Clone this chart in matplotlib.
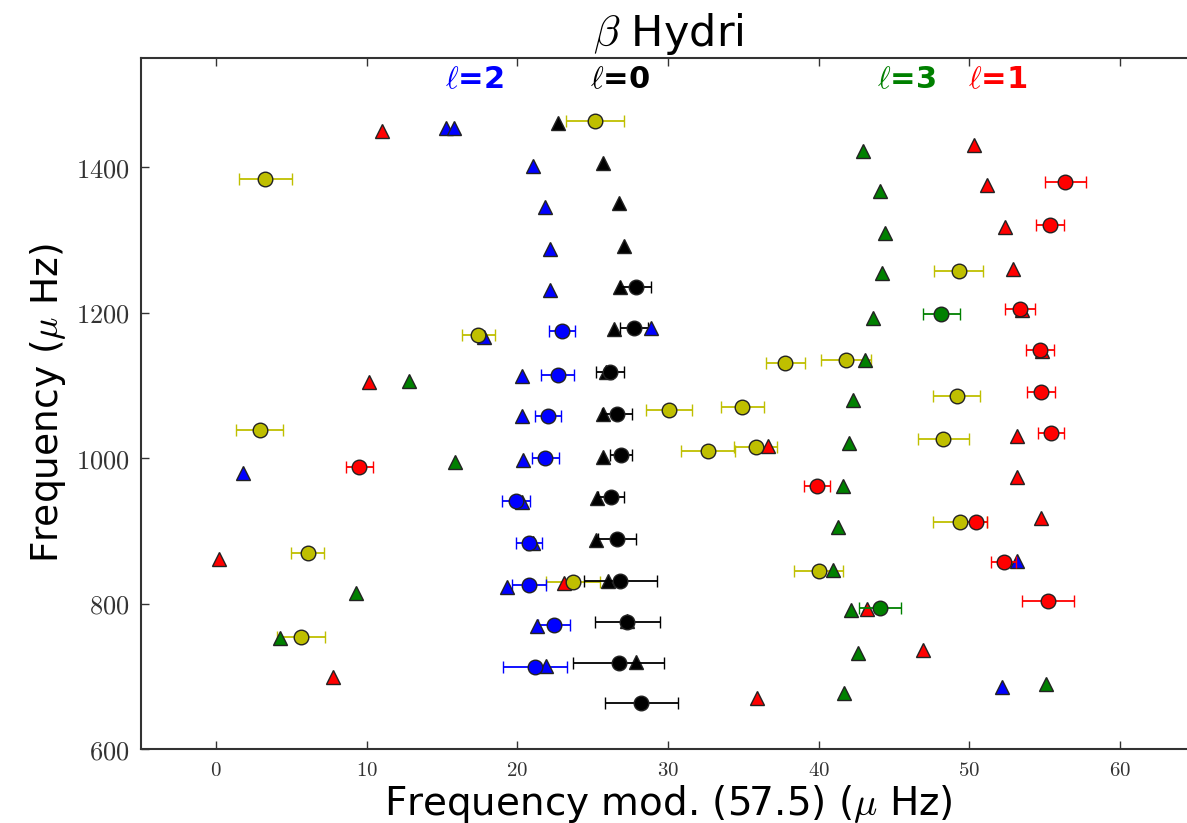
import matplotlib
matplotlib.use("Agg")
import matplotlib.pyplot as plt
from matplotlib.ticker import FuncFormatter

plt.rcParams['mathtext.fontset'] = 'cm'

# l=0 (black): model triangles and observed circles
l0_mod_x = [22.66, 25.69, 26.72, 27.06, 26.84, 26.39, 25.9, 25.69, 25.69, 25.31, 25.24, 26.02, 27.3, 27.85]
l0_mod_y = [1460, 1406, 1350, 1291, 1235, 1178, 1118, 1061, 1002, 945, 888, 831, 776, 719]
l0_obs_x = [27.85, 27.72, 26.13, 26.61, 26.9, 26.19, 26.61, 26.84, 27.28, 26.72, 28.23]
l0_obs_y = [1235, 1179, 1119, 1061, 1004.5, 946, 888.5, 831.5, 775, 718, 663]
l0_obs_err = [1.04, 0.94, 0.92, 1.0, 0.73, 0.86, 1.24, 2.4, 2.16, 3.0, 2.41]

# l=2 (blue)
l2_mod_x = [15.25, 15.8, 21.04, 21.86, 22.19, 22.19, 28.9, 17.8, 20.27, 20.27, 20.38, 1.75,
            20.27, 21.04, 19.32, 21.3, 21.88, 53.2, 52.17]
l2_mod_y = [1454, 1454, 1401, 1345.5, 1288, 1231.6, 1179, 1166.6, 1113, 1057.3, 997.7, 980,
            940, 883, 823.3, 769, 714, 859, 685]
l2_obs_x = [22.97, 22.66, 22.0, 21.86, 19.9, 20.78, 20.78, 22.41, 21.15]
l2_obs_y = [1174.3, 1114.7, 1058.2, 1000, 941, 883, 825.6, 771, 712.3]
l2_obs_err = [0.85, 1.1, 0.86, 0.92, 0.96, 0.88, 1.13, 1.06, 2.12]

# l=1 (red)
l1_mod_x = [10.99, 50.33, 51.2, 52.39, 52.94, 53.5, 54.86, 10.17, 53.2, 36.63, 53.2, 54.8,
            0.2, 23.08, 43.19, 46.9, 7.74, 35.9]
l1_mod_y = [1449, 1430, 1375, 1317, 1260.6, 1203, 1147.7, 1104, 1031, 1016, 973.3, 917.4,
            861, 828, 792, 736, 698.6, 669.6]
l1_obs_x = [56.37, 55.35, 53.38, 54.7, 54.75, 55.42, 9.5, 39.9, 50.44, 52.28, 55.24]
l1_obs_y = [1380, 1320, 1205, 1149, 1090.8, 1034.4, 987.6, 961, 912.7, 857.7, 803.6]
l1_obs_err = [1.36, 0.92, 1.0, 0.92, 0.92, 0.86, 0.92, 0.88, 0.77, 0.84, 1.73]

# l=3 (green)
l3_mod_x = [42.97, 44.1, 44.43, 44.2, 43.63, 43.08, 12.8, 42.3, 42.04, 15.85, 41.6, 41.27,
            40.94, 9.28, 42.15, 4.24, 42.6, 41.71, 55.13]
l3_mod_y = [1422, 1367, 1310, 1254, 1193, 1135.3, 1106.4, 1079.3, 1020.6, 994, 961, 905,
            846.3, 814.2, 791.2, 752.2, 732.4, 676.5, 689.3]
l3_obs_x = [48.16, 44.08]
l3_obs_y = [1198.6, 793.5]
l3_obs_err = [1.25, 1.38]

# unidentified observed modes (yellow)
un_x = [25.13, 3.25, 49.29, 17.4, 41.82, 37.8, 49.16, 34.93, 30.06, 2.87, 48.28, 35.81,
        32.65, 49.38, 6.06, 40.0, 23.7, 5.61]
un_y = [1463, 1384, 1257.8, 1168.8, 1134.4, 1130.8, 1084.8, 1069.6, 1065.5, 1038, 1026.2,
        1014.6, 1010, 912.7, 869.2, 845.3, 830, 754.4]
un_err = [1.92, 1.77, 1.6, 1.08, 1.65, 1.29, 1.58, 1.44, 1.55, 1.58, 1.71, 1.42, 1.8, 1.77,
          1.11, 1.64, 1.79, 1.58]

fig = plt.figure(figsize=(11.87, 8.23), dpi=100)
ax = fig.add_axes([0.1188, 0.0899, 0.888, 0.8396])

ms = 10.5
eb = dict(fmt='o', ms=ms, mec='#222222', mew=1, elinewidth=1.3, capsize=4, capthick=1.3)
tri = dict(ls='none', marker='^', ms=ms, mec='#222222', mew=1)

ax.errorbar(un_x, un_y, xerr=un_err, color='y', **eb)
ax.plot(l0_mod_x, l0_mod_y, color='k', **tri)
ax.errorbar(l0_obs_x, l0_obs_y, xerr=l0_obs_err, color='k', **eb)
ax.errorbar(l2_obs_x, l2_obs_y, xerr=l2_obs_err, color='b', **eb)
ax.plot(l2_mod_x, l2_mod_y, color='b', **tri)
ax.errorbar(l1_obs_x, l1_obs_y, xerr=l1_obs_err, color='r', **eb)
ax.plot(l1_mod_x, l1_mod_y, color='r', **tri)
ax.errorbar(l3_obs_x, l3_obs_y, xerr=l3_obs_err, color='g', **eb)
ax.plot(l3_mod_x, l3_mod_y, color='g', **tri)

# degree labels
for xpos, txt, c in [(15.2, '2', 'b'), (24.8, '0', 'k'), (43.9, '3', 'g'), (49.9, '1', 'r')]:
    ax.text(xpos, 1521, r'$\ell$=' + txt, color=c, fontsize=22, fontweight='bold',
            ha='left', va='center')

ax.set_xlim(-5, 65)
ax.set_ylim(600, 1550)
ax.set_xticks(range(0, 61, 10))
ax.set_yticks(range(600, 1401, 200))
fmt = FuncFormatter(lambda v, p: r'$%d$' % v)
ax.xaxis.set_major_formatter(fmt)
ax.yaxis.set_major_formatter(fmt)
ax.tick_params(direction='in', top=True, right=True, length=6, width=1, color='#333333')
ax.tick_params(axis='x', labelsize=15, pad=8, colors='#333333')
ax.tick_params(axis='y', labelsize=19, pad=8, colors='#333333')
for s in ax.spines.values():
    s.set_linewidth(1.5)
    s.set_color('#333333')

ax.set_xlabel(r'Frequency mod. (57.5) ($\mu$ Hz)', fontsize=28, labelpad=2)
ax.set_ylabel(r'Frequency ($\mu$ Hz)', fontsize=27, labelpad=6)
ax.set_title(r'$\beta$ Hydri', fontsize=31, pad=9)

fig.savefig('out.png', dpi=100)
